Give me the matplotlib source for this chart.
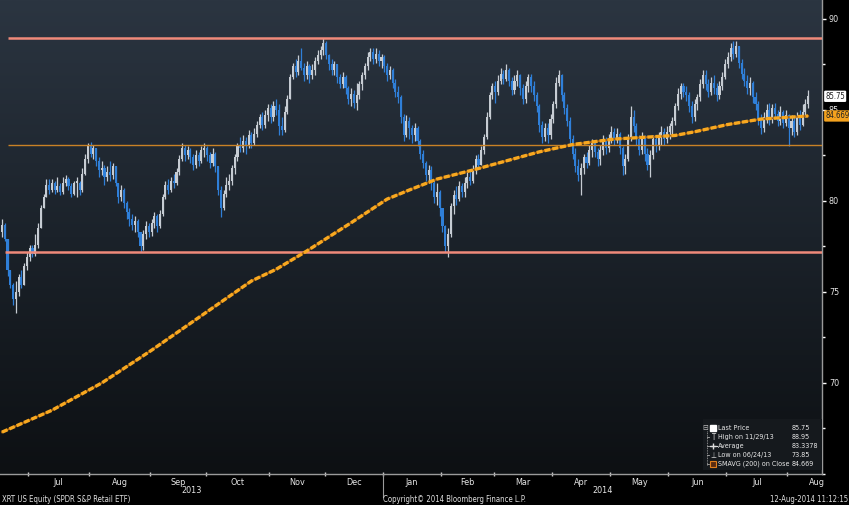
import matplotlib.pyplot as plt
import matplotlib.transforms as mtransforms
from matplotlib import font_manager
from matplotlib.colors import LinearSegmentedColormap
from matplotlib.ticker import MultipleLocator
import numpy as np
import pandas as pd

# trading days on the chart (NYSE holidays removed)
holidays = ['2013-07-04', '2013-09-02', '2013-11-28', '2013-12-25', '2014-01-01',
            '2014-01-20', '2014-02-17', '2014-04-18', '2014-05-26', '2014-07-04']
dates = pd.bdate_range('2013-06-17', '2014-08-12', freq='C', holidays=holidays)

# daily prices, one row per month
first_open = 78.3
close = [
    78.7, 77.9, 76.2, 75.4, 74.6, 75.0, 75.8, 75.4, 76.4, 76.9,
    77.4, 77.1, 77.6, 78.5, 79.6, 80.2, 80.9, 80.6, 81.0, 80.6, 80.8, 80.5, 81.0, 81.2, 80.8, 80.4, 81.0, 81.0, 80.6, 81.5, 82.3, 83.0,
    82.6, 82.9, 82.2, 81.7, 81.8, 81.3, 81.6, 81.4, 81.9, 81.0, 80.2, 80.6, 79.9, 79.4, 79.0, 78.7, 78.9, 78.3, 77.5, 78.2, 78.6, 78.3,
    78.8, 79.2, 78.6, 79.3, 80.2, 80.9, 80.6, 81.1, 81.0, 81.6, 82.3, 82.9, 82.5, 82.8, 82.4, 82.0, 82.5, 82.2, 82.8, 82.9,
    82.5, 82.1, 82.6, 81.9, 80.6, 79.6, 80.4, 80.9, 81.1, 81.8, 82.4, 83.0, 82.9, 83.3, 83.0, 83.6, 83.2, 83.7, 84.2, 84.6, 84.2, 84.7, 85.1,
    84.6, 85.2, 85.0, 84.1, 83.9, 84.9, 85.6, 86.8, 87.4, 87.1, 87.7, 87.3, 86.9, 87.4, 86.9, 87.2, 87.7, 88.0, 88.3, 88.7,
    88.0, 87.5, 87.2, 87.5, 86.8, 86.4, 86.8, 86.2, 85.6, 85.9, 85.4, 85.8, 86.4, 86.9, 87.4, 87.9, 88.2, 87.8, 88.1, 87.7, 87.9,
    87.4, 86.9, 87.2, 86.5, 86.0, 85.7, 84.6, 83.6, 84.4, 84.0, 83.6, 84.0, 83.3, 82.6, 82.1, 81.4, 81.7, 81.0, 80.2, 80.5, 79.6,
    78.6, 77.5, 78.2, 79.7, 80.3, 80.1, 80.8, 80.5, 81.0, 81.3, 81.1, 81.7, 82.3, 82.0, 82.8, 83.5, 84.6, 85.8, 86.3,
    86.0, 86.6, 87.0, 86.7, 87.2, 86.6, 86.1, 86.6, 86.9, 86.2, 85.6, 86.3, 86.8, 86.3, 85.8, 85.2, 84.2, 83.5, 84.0, 83.6, 84.5,
    85.3, 86.5, 86.9, 85.8, 85.1, 84.4, 83.4, 82.6, 81.9, 81.4, 81.8, 82.4, 82.1, 82.8, 83.2, 82.7, 82.3, 82.8, 83.3, 82.9, 83.4,
    83.8, 83.4, 83.7, 82.9, 81.9, 82.3, 83.4, 84.6, 84.1, 83.4, 82.8, 83.5, 82.6, 82.0, 82.5, 83.4, 83.0, 83.5, 83.8, 83.4, 83.8,
    84.1, 84.4, 85.2, 85.9, 86.3, 86.0, 85.8, 85.2, 84.6, 85.3, 85.7, 86.4, 86.9, 86.4, 86.0, 86.5, 86.2, 85.8, 86.3, 86.8, 87.5,
    87.9, 88.4, 88.1, 88.5, 87.6, 87.0, 86.6, 86.2, 86.5, 85.7, 85.3, 84.5, 84.0, 84.6, 85.0, 84.5, 85.1, 84.8, 84.4, 84.9, 84.3, 84.7,
    84.0, 84.4, 83.8, 84.6, 84.2, 84.9, 85.3, 85.75,
]
high = [
    79.0, 78.8, 77.3, 76.2, 75.5, 75.6, 76.0, 76.2, 76.6, 77.2,
    77.6, 77.6, 78.2, 78.8, 79.8, 80.4, 81.2, 81.2, 81.2, 81.1, 81.3, 81.0, 81.3, 81.4, 81.3, 81.0, 81.1, 81.3, 81.1, 81.8, 82.6, 83.2,
    83.25, 83.1, 82.9, 82.4, 82.2, 82.0, 81.9, 82.2, 82.1, 81.8, 81.0, 80.9, 80.7, 80.0, 79.6, 79.3, 79.2, 79.0, 78.3, 78.4, 78.9, 78.8,
    79.0, 79.4, 79.3, 79.5, 80.4, 81.1, 81.2, 81.3, 81.5, 81.8, 82.5, 83.2, 83.1, 83.0, 82.9, 82.6, 82.8, 82.7, 83.0, 83.2,
    83.0, 82.7, 82.9, 82.7, 81.9, 80.8, 80.6, 81.3, 81.5, 82.0, 82.6, 83.2, 83.5, 83.6, 83.5, 83.9, 83.8, 84.0, 84.4, 84.8, 84.9, 85.0, 85.3,
    85.3, 85.5, 85.6, 85.3, 84.6, 85.2, 85.8, 87.0, 87.6, 87.8, 88.0, 88.4, 87.6, 87.7, 87.5, 87.5, 87.9, 88.3, 88.5, 88.95,
    88.8, 88.1, 87.8, 87.7, 87.5, 87.0, 87.1, 86.9, 86.3, 86.2, 86.1, 86.5, 86.6, 87.1, 87.6, 88.2, 88.4, 88.4, 88.4, 88.3, 88.1,
    88.0, 87.6, 87.4, 87.3, 86.7, 86.3, 85.8, 84.8, 84.7, 84.6, 84.2, 84.3, 84.1, 83.4, 82.8, 82.2, 82.0, 81.9, 81.2, 81.0, 80.6,
    79.6, 78.7, 78.5, 79.9, 80.6, 80.8, 81.1, 81.0, 81.3, 81.6, 81.7, 82.0, 82.5, 82.6, 83.0, 83.7, 84.9, 86.0, 86.5,
    86.6, 86.9, 87.3, 87.2, 87.5, 87.3, 86.8, 86.9, 87.2, 87.0, 86.4, 86.6, 87.0, 87.0, 86.6, 86.0, 85.3, 84.4, 84.3, 84.3, 84.8,
    85.5, 86.8, 87.2, 87.0, 86.0, 85.3, 84.6, 83.6, 82.9, 82.3, 82.1, 82.6, 82.7, 83.1, 83.4, 83.3, 82.9, 83.1, 83.6, 83.5, 83.7,
    84.1, 84.0, 84.0, 83.8, 83.0, 82.6, 83.7, 85.2, 85.0, 84.3, 83.6, 83.8, 83.6, 82.9, 82.8, 83.6, 83.6, 83.8, 84.1, 84.0, 84.1,
    84.3, 84.6, 85.4, 86.2, 86.5, 86.5, 86.3, 86.0, 85.5, 85.6, 85.9, 86.7, 87.2, 87.2, 86.7, 86.8, 86.9, 86.5, 86.6, 87.1, 87.8,
    88.2, 88.7, 88.8, 88.8, 88.5, 87.8, 87.3, 86.9, 86.8, 86.6, 86.0, 85.5, 84.8, 84.9, 85.3, 85.4, 85.3, 85.4, 85.0, 85.2, 85.0, 85.0,
    84.8, 84.7, 84.6, 84.9, 85.0, 85.3, 85.6, 86.1,
]
low = [
    78.0, 77.8, 75.9, 75.2, 74.3, 73.85, 74.8, 75.2, 75.6, 76.2,
    76.7, 76.9, 77.0, 77.4, 78.5, 79.6, 80.2, 80.4, 80.5, 80.4, 80.5, 80.3, 80.4, 80.8, 80.6, 80.2, 80.3, 80.2, 80.3, 80.5, 81.4, 82.1,
    82.4, 82.3, 81.9, 81.3, 81.4, 80.9, 81.1, 81.1, 81.2, 80.8, 79.9, 80.0, 79.6, 79.0, 78.6, 78.4, 78.3, 78.0, 77.2, 77.3, 77.9, 78.0,
    78.1, 78.5, 78.3, 78.5, 79.2, 80.1, 80.4, 80.5, 80.7, 80.9, 81.4, 82.2, 82.2, 82.3, 82.1, 81.7, 81.8, 81.9, 82.1, 82.4,
    82.2, 81.8, 81.9, 81.6, 80.3, 79.1, 79.5, 80.2, 80.6, 80.9, 81.5, 82.2, 82.7, 82.7, 82.6, 82.9, 82.9, 83.1, 83.5, 84.0, 83.9, 84.0, 84.4,
    84.3, 84.4, 84.7, 83.6, 83.6, 83.8, 84.8, 85.6, 86.7, 86.8, 86.9, 87.2, 86.6, 86.7, 86.5, 86.7, 86.9, 87.5, 87.8, 88.0,
    87.8, 87.2, 86.9, 86.9, 86.5, 86.2, 86.2, 85.9, 85.3, 85.2, 85.1, 85.0, 85.6, 86.1, 86.7, 87.2, 87.7, 87.5, 87.6, 87.4, 87.3,
    87.1, 86.6, 86.7, 86.2, 85.7, 85.4, 84.3, 83.3, 83.5, 83.4, 83.2, 83.3, 83.0, 82.3, 81.8, 81.1, 81.0, 80.6, 79.9, 79.8, 79.2,
    78.3, 77.2, 76.9, 78.0, 79.3, 79.8, 80.0, 80.2, 80.2, 80.7, 80.9, 81.0, 81.5, 81.8, 82.0, 82.6, 83.4, 84.5, 85.6,
    85.4, 85.8, 86.4, 86.4, 86.6, 86.3, 85.8, 85.9, 86.3, 85.8, 85.3, 85.4, 86.0, 86.0, 85.5, 84.9, 83.8, 83.2, 83.3, 83.2, 83.4,
    84.3, 85.1, 86.3, 85.5, 84.8, 84.1, 83.1, 82.3, 81.6, 81.1, 80.3, 81.5, 81.8, 82.0, 82.4, 82.4, 81.9, 82.0, 82.5, 82.6, 82.7,
    83.2, 83.1, 83.2, 82.6, 81.4, 81.5, 82.2, 83.3, 83.8, 83.1, 82.5, 82.6, 82.2, 81.7, 81.3, 82.3, 82.7, 82.8, 83.1, 83.1, 83.2,
    83.4, 83.7, 84.2, 85.0, 85.6, 85.7, 85.5, 84.9, 84.3, 84.4, 85.0, 85.5, 86.2, 86.1, 85.7, 85.8, 85.9, 85.5, 85.6, 86.1, 86.7,
    87.3, 87.7, 87.8, 87.9, 87.3, 86.7, 86.3, 85.9, 85.8, 85.4, 85.0, 84.2, 83.7, 83.8, 84.3, 84.2, 84.3, 84.5, 84.1, 84.2, 84.0, 84.1,
    83.0, 83.6, 83.5, 83.6, 83.9, 84.1, 84.6, 85.1,
]

# 200 day moving average, read at a few trading days
sma_day = [0, 18, 36, 54, 72, 90, 99, 110, 126, 139, 147, 157, 170, 182, 194, 206, 221, 232, 243, 250, 262, 274, 291]
sma_val = [67.3, 68.5, 70.0, 71.8, 73.7, 75.6, 76.25, 77.25, 78.8, 80.1, 80.6, 81.2, 81.7, 82.2, 82.7, 83.1,
           83.4, 83.5, 83.6, 83.8, 84.2, 84.5, 84.669]

# horizontal lines drawn on the chart
top_line = 88.95
bottom_line = 77.2
average_line = 83.1

legend_names = ['Last Price', 'High on 11/29/13', 'Average', 'Low on 06/24/13', 'SMAVG (200) on Close']
legend_values = ['85.75', '88.95', '83.3378', '73.85', '84.669']

assert len(close) == len(high) == len(low) == len(dates)


# Bloomberg uses a narrow font: take a condensed face if one is installed
def pick_narrow():
    for fam in ['Liberation Sans Narrow', 'Noto Sans', 'DejaVu Sans', 'Open Sans', 'Roboto']:
        for f in font_manager.fontManager.ttflist:
            narrow = ('condensed' in str(f.stretch) or 'Narrow' in f.name or 'Condensed' in f.name)
            if f.name.startswith(fam) and narrow and f.style == 'normal' and f.weight in (400, 'normal', 'regular', 'book'):
                return f
    return None


nf = pick_narrow()
if nf is not None:
    plt.rcParams['font.family'] = [nf.name, 'DejaVu Sans']
    plt.rcParams['font.stretch'] = nf.stretch
    fs = 1.0
else:
    plt.rcParams['font.family'] = ['Liberation Sans', 'DejaVu Sans']
    fs = 0.85

W, H = 849, 505
fig = plt.figure(figsize=(W / 100, H / 100), dpi=100, facecolor='black')
ax = fig.add_axes([0, 31 / H, 822 / W, 474 / H])
ax.set_facecolor('black')

# dark gradient background
grad = np.linspace(0, 1, 256).reshape(-1, 1)
bg = LinearSegmentedColormap.from_list('bg', ['#2b3541', '#1b222a', '#0d1013'])
ax.imshow(grad, cmap=bg, extent=[0, 1, 0, 1], transform=ax.transAxes, aspect='auto', zorder=0)

n = len(dates)
xs = np.arange(n)
closes = np.array(close)
opens = np.array([first_open] + close[:-1])
highs = np.maximum(np.array(high), np.maximum(opens, closes))
lows = np.minimum(np.array(low), np.minimum(opens, closes))
up = closes >= opens
colors = np.where(up, '#c6ccd3', '#2f7fd8')

# candles
ax.vlines(xs, lows, highs, colors=colors, lw=0.9, zorder=2)
ax.bar(xs, np.maximum(np.abs(closes - opens), 0.08), bottom=np.minimum(opens, closes),
       width=0.75, color=colors, linewidth=0, zorder=3)

xmax = 296.0
ax.hlines(top_line, 2, xmax, color='#ef8a7a', lw=1.8, zorder=4)
ax.hlines(bottom_line, 1, xmax, color='#ef8a7a', lw=1.8, zorder=4)
ax.hlines(average_line, 2, xmax, color='#c98226', lw=1.0, zorder=4)

# moving average
ax.plot(sma_day, sma_val, color='#a8620e', lw=1.4, zorder=5)
ax.plot(sma_day, sma_val, color='#f8a820', lw=2.4, linestyle=(0, (1.8, 0.6)), zorder=5,
        solid_capstyle='butt')

ax.set_xlim(-0.72, xmax)
ax.set_ylim(65.0, 91.04)

# right price axis
ax.yaxis.tick_right()
ax.set_yticks([70, 75, 80, 85, 90])
ax.yaxis.set_minor_locator(MultipleLocator(2.5))
ax.tick_params(axis='y', which='major', colors='white', labelcolor='#e6e6e6', labelsize=6.5 * fs,
               length=3, width=1, pad=2)
ax.tick_params(axis='y', which='minor', colors='white', length=2, width=1)

# month ticks and labels
month = dates.to_period('M')
starts = [i for i in range(n) if i == 0 or month[i] != month[i - 1]]
ax.set_xticks([s - 0.5 for s in starts[1:]])
ax.set_xticklabels([])
centers, labels = [], []
for s in starts[1:]:
    m = month[s]
    full = len(pd.bdate_range(m.start_time, m.end_time, freq='C', holidays=holidays))
    centers.append(s - 0.5 + full / 2)
    labels.append(m.strftime('%b'))
ax.set_xticks(centers, minor=True)
ax.set_xticklabels(labels, minor=True)
ax.tick_params(axis='x', which='major', colors='#d0d0d0', length=3, width=1, direction='inout')
ax.tick_params(axis='x', which='minor', length=0, labelcolor='#e6e6e6', labelsize=6.5 * fs, pad=3)

for side in ['top', 'left']:
    ax.spines[side].set_visible(False)
for side in ['bottom', 'right']:
    ax.spines[side].set_color('#9a9a9a')
    ax.spines[side].set_linewidth(1)

# year labels and separator
tb = mtransforms.blended_transform_factory(ax.transData, ax.transAxes)
jan = [s for s in starts if month[s].month == 1][0]
ax.plot([jan - 0.5, jan - 0.5], [0, -0.048], transform=tb, color='#9a9a9a', lw=0.8, clip_on=False)
ax.text((-0.72 + jan - 0.5) / 2, -0.034, '2013', transform=tb, ha='center', va='center',
        color='#e6e6e6', fontsize=6.5 * fs)
ax.text((jan - 0.5 + xmax) / 2, -0.034, '2014', transform=tb, ha='center', va='center',
        color='#e6e6e6', fontsize=6.5 * fs)

# price tags on the right
tr = mtransforms.blended_transform_factory(ax.transAxes, ax.transData)
ax.text(1.004, close[-1], legend_values[0], transform=tr, ha='left', va='center', fontsize=5.6 * fs,
        color='#222222', clip_on=False, zorder=10,
        bbox=dict(boxstyle='round,pad=0.15', fc='white', ec='none'))
ax.text(1.004, sma_val[-1], legend_values[4], transform=tr, ha='left', va='center', fontsize=5.6 * fs,
        color='#222222', clip_on=False, zorder=10,
        bbox=dict(boxstyle='round,pad=0.15', fc='#f4a21e', ec='none'))


# legend box, placed in pixel units of the axes
def ax_x(px):
    return px / 822


def ax_y(py):
    return (474 - py) / 474


ax.add_patch(plt.Rectangle((ax_x(703), ax_y(470)), ax_x(822) - ax_x(703), ax_y(419) - ax_y(470),
                           transform=ax.transAxes, facecolor='#15191d', edgecolor='none', zorder=8))
rows = [428, 437, 446, 455, 464]
ax.plot([ax_x(706.5)] * 2, [ax_y(431), ax_y(465)], transform=ax.transAxes, color='#aaaaaa',
        lw=0.6, linestyle=(0, (1, 1)), zorder=9)
ax.text(ax_x(705), ax_y(428), '⊟', transform=ax.transAxes, ha='center', va='center',
        fontsize=5.5, color='#bbbbbb', family='DejaVu Sans', zorder=9)
for r in rows[1:]:
    ax.plot([ax_x(706.5), ax_x(709)], [ax_y(r)] * 2, transform=ax.transAxes, color='#aaaaaa',
            lw=0.6, zorder=9)
ax.plot(ax_x(713), ax_y(rows[0]), 's', ms=5, color='white', transform=ax.transAxes, zorder=9)
ax.text(ax_x(713), ax_y(rows[1]), 'T', transform=ax.transAxes, ha='center', va='center',
        fontsize=5.5, color='#dddddd', zorder=9)
ax.plot([ax_x(709.5), ax_x(716.5)], [ax_y(rows[2])] * 2, transform=ax.transAxes, color='#dddddd',
        lw=0.8, zorder=9)
ax.plot(ax_x(713), ax_y(rows[2]), '+', ms=4, color='#dddddd', transform=ax.transAxes, zorder=9)
ax.text(ax_x(713), ax_y(rows[3]), '⊥', transform=ax.transAxes, ha='center', va='center',
        fontsize=5.5, color='#dddddd', family='DejaVu Sans', zorder=9)
ax.plot(ax_x(713), ax_y(rows[4]), 's', ms=5, mfc='#5a2c12', mec='#e0801e', mew=0.8,
        transform=ax.transAxes, zorder=9)
for r, name, val in zip(rows, legend_names, legend_values):
    ax.text(ax_x(718), ax_y(r), name, transform=ax.transAxes, ha='left', va='center',
            fontsize=5.1 * fs, color='#e8e8e8', zorder=9)
    ax.text(ax_x(792), ax_y(r), val, transform=ax.transAxes, ha='left', va='center',
            fontsize=5.1 * fs, color='#e8e8e8', zorder=9)

# footer
fig.text(2 / W, 6 / H, 'XRT US Equity (SPDR S&P Retail ETF)', ha='left', va='center',
         fontsize=5.6 * fs, color='#e0e0e0')
fig.text(383 / W, 6 / H, 'Copyright© 2014 Bloomberg Finance L.P.', ha='left', va='center',
         fontsize=5.6 * fs, color='#e0e0e0')
fig.text(848 / W, 6 / H, '12-Aug-2014 11:12:15', ha='right', va='center',
         fontsize=5.6 * fs, color='#e0e0e0')

fig.savefig('out.png', dpi=100, facecolor='black')
